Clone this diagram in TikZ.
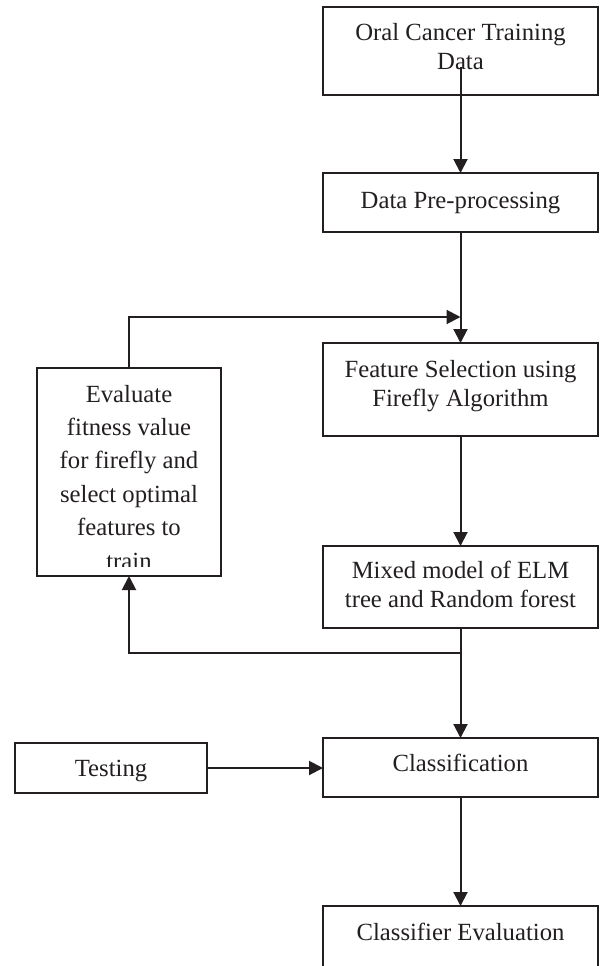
\documentclass[tikz,border=0pt]{standalone}
\usepackage{fontspec}
\setmainfont{Liberation Serif}
\usetikzlibrary{arrows.meta}
\definecolor{ink}{HTML}{231F20}
\begin{document}
\begin{tikzpicture}[x=1pt,y=-1pt,
  every node/.style={inner sep=0pt,outer sep=0pt,text=ink},
  box/.style={draw=ink,line width=2pt,minimum width=275pt},
  txt/.style={anchor=base,font=\fontsize{24.7}{29.5}\selectfont},
  arr/.style={draw=ink,line width=2pt,-{Triangle[length=14pt,width=14pt]}}]
\useasboundingbox (0,0) rectangle (600,966);
\clip (0,0) rectangle (600,966);
% boxes
\node[box,minimum height=88pt] (b1) at (460.5,51) {};
\node[box,minimum height=59pt] (b2) at (460.5,202.5) {};
\node[box,minimum height=93pt] (b3) at (460.5,389.5) {};
\node[box,minimum height=82pt] (b4) at (460.5,587) {};
\node[box,minimum height=59pt] (cl) at (460.5,767.5) {};
\node[box,minimum height=100pt] (ce) at (460.5,956) {};
\node[box,minimum width=192pt,minimum height=50pt] (te) at (111,768) {};
\node[box,minimum width=184pt,minimum height=208pt] (ev) at (129,472) {};
% texts
\node[txt] (b1a) at (460.5,41) {Oral Cancer Training};
\node[txt] (b1b) at (460.5,70) {Data};
\node[txt] (b2a) at (460.5,208) {Data Pre-processing};
\node[txt] (b3a) at (460.5,377) {Feature Selection using};
\node[txt] (b3b) at (460.5,406) {Firefly Algorithm};
\node[txt] (b4a) at (460.5,578) {Mixed model of ELM};
\node[txt] (b4b) at (460.5,607) {tree and Random forest};
\node[txt] (cla) at (460.5,771) {Classification};
\node[txt] (tea) at (111,776) {Testing};
\node[txt] (cea) at (460.5,940) {Classifier Evaluation};
\node[txt] (eva) at (129,402) {Evaluate};
\node[txt] (evb) at (129,435) {fitness value};
\node[txt] (evc) at (129,468.5) {for firefly and};
\node[txt] (evd) at (129,502) {select optimal};
\node[txt] (eve) at (129,535) {features to};
\begin{scope}
\clip (ev.west |- 540,540) rectangle (ev.east |- 566.5,566.5);
\node[txt] (evf) at (129,569) {train};
\end{scope}
% connectors
\coordinate (j1) at (460.5,317);
\coordinate (j2) at (460.5,653);
\draw[arr] ([yshift=-16pt]b1.center) -- (b2.north);
\draw[arr] (b2.south) -- (b3.north);
\draw[arr] (ev.north) |- (j1);
\draw[arr] (b3.south) -- (b4.north);
\draw[arr] (b4.south) -- (cl.north);
\draw[arr] (j2) -| (ev.south);
\draw[arr] (te.east) -- (te.east -| cl.west);
\draw[arr] (cl.south) -- (ce.north);
\end{tikzpicture}
\end{document}
